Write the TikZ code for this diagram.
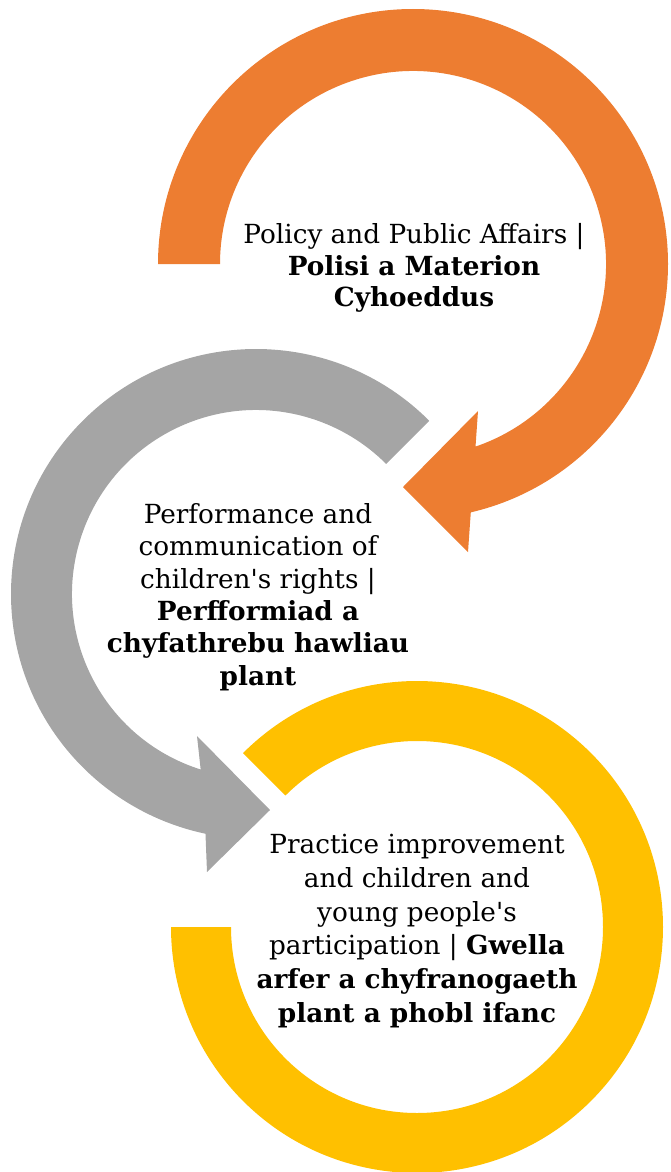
\documentclass[tikz,border=0pt]{standalone}
\usepackage{fontspec}
\setmainfont{DejaVu Serif}
\usetikzlibrary{calc}
\definecolor{orangeA}{HTML}{ED7D31}
\definecolor{grayA}{HTML}{A5A5A5}
\definecolor{yellowA}{HTML}{FFC000}
\begin{document}
\begin{tikzpicture}[x=1pt,y=1pt,
  lbl/.style={align=center, inner sep=0pt, text=black},
  lblA/.style={lbl, font=\fontsize{26.3}{31.5}\selectfont},
  lblB/.style={lbl, font=\fontsize{26.3}{32.4}\selectfont},
  lblC/.style={lbl, font=\fontsize{26.3}{33.8}\selectfont}]
\useasboundingbox (0,0) rectangle (670,-1172);
\begin{scope}
\clip (0,0) rectangle (670,-1172);
% orange arrow
\coordinate (co) at (413,-264);
\fill[orangeA] (co) ++(180:255) arc[start angle=180,end angle=-76.9,radius=255]
  -- (468,-552) -- (403,-487) -- (478,-411)
  -- ($(co)+(-71.1:193)$) arc[start angle=-71.1,end angle=180,radius=193] -- cycle;
% gray arrow
\coordinate (cg) at (256,-594);
\fill[grayA] (cg) ++(45:245) arc[start angle=45,end angle=258.1,radius=245]
  -- (207,-872) -- (270,-810) -- (197,-736)
  -- ($(cg)+(252.5:184)$) arc[start angle=252.5,end angle=45,radius=184] -- cycle;
% yellow ring
\coordinate (cy) at (417,-927);
\fill[yellowA] (cy) ++(135:246) arc[start angle=135,end angle=-180,radius=246]
  -- ($(cy)+(180:186)$) arc[start angle=-180,end angle=135,radius=186] -- cycle;
\end{scope}
\node[lblA] (t1) at (414,-268) {Policy and Public Affairs |\\\textbf{Polisi a Materion}\\\textbf{Cyhoeddus}};
\node[lblB] (t2) at (258,-597) {Performance and\\communication of\\children\textquotesingle s rights |\\\textbf{Perfformiad a}\\\textbf{chyfathrebu hawliau}\\\textbf{plant}};
\node[lblC] (t3) at (417,-931) {Practice improvement\\and children and\\young people\textquotesingle s\\participation | \textbf{Gwella}\\\textbf{arfer a chyfranogaeth}\\\textbf{plant a phobl ifanc}};
\end{tikzpicture}
\end{document}
